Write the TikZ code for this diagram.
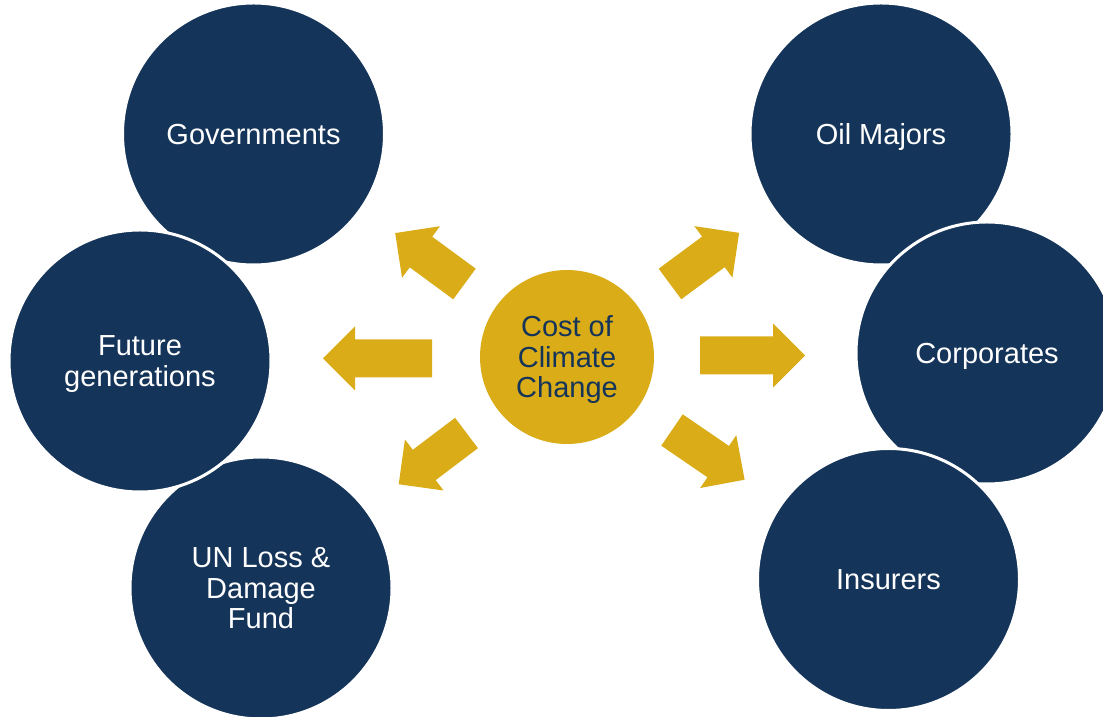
\documentclass[tikz,border=0pt]{standalone}
\usepackage{fontspec}
\setmainfont{Liberation Sans}
\definecolor{navy}{RGB}{21,52,89}
\definecolor{gold}{RGB}{217,172,24}
\tikzset{
  party/.style={circle, fill=navy, draw=white, line width=3pt, text=white,
    align=center, inner sep=0pt, minimum size=262pt, text depth=0pt,
    font=\fontsize{29}{30.5}\selectfont},
  hub/.style={circle, fill=gold, text=navy, align=center, inner sep=0pt,
    minimum size=174pt, text depth=0pt, font=\fontsize{29}{30.5}\selectfont},
  goldarrow/.style={fill=gold}
}
\newcommand\flowarrow[4]{%
  \fill[goldarrow, shift={(#1,#2)}, rotate=#3]
    (0,-19) -- ({#4-32},-19) -- ({#4-32},-32) -- (#4,0) --
    ({#4-32},32) -- ({#4-32},19) -- (0,19) -- cycle;}
\begin{document}
\begin{tikzpicture}[x=1pt,y=1pt]
  \useasboundingbox (0,0) rectangle (1103,717);
  \clip (0,0) rectangle (1103,717);
  % left group
  \node[party] (gov) at (253.5,583) {Governments};
  \node[party] (un) at (261,129) {UN Loss \&\\Damage\\Fund};
  \node[party] (fut) at (140,356) {Future\\generations};
  % right group
  \node[party] (oil) at (881,583) {Oil Majors};
  \node[party] (corp) at (987,364) {Corporates};
  \node[party] (ins) at (888.5,137.5) {Insurers};
  % hub
  \node[hub] (hub) at (567,360) {Cost of\\Climate\\Change};
  % arrows
  \flowarrow{432}{358.5}{180}{109}
  \flowarrow{700}{361.5}{0}{105}
  \flowarrow{464.5}{433}{143.7}{86}
  \flowarrow{670}{433}{36.5}{86}
  \flowarrow{466.5}{284}{217.1}{85}
  \flowarrow{672}{287}{-34.4}{88}
\end{tikzpicture}
\end{document}
